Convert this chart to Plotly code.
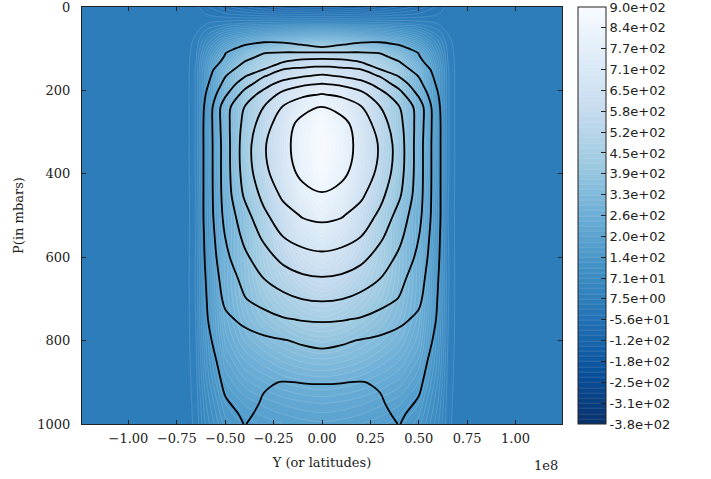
import plotly.graph_objects as go

# Horizontal coordinate (Y, axis shows it in units of 1e8) and pressure levels (mbar)
y_lat = [-1.24e8, -0.9e8, -0.7e8, -0.65e8, -0.6e8, -0.5e8, -0.4e8, -0.3e8, -0.2e8, -0.1e8, 0.0,
         0.1e8, 0.2e8, 0.3e8, 0.4e8, 0.5e8, 0.6e8, 0.65e8, 0.7e8, 0.9e8, 1.24e8]
p_mbar = [0, 40, 70, 90, 100, 110, 120, 135, 150, 165, 185, 210, 240, 280, 330, 390,
          450, 500, 550, 600, 650, 700, 750, 800, 850, 900, 950, 975, 1000]

# Shaded field, rows follow p_mbar, columns follow y_lat
fill_field = [
    [0, 0, 0, -4, -20, -50, -70, -86, -97, -105, -110, -105, -97, -86, -70, -50, -20, -4, 0, 0, 0],
    [0, 0, 0, 2, 7, 18, 26, 31, 35, 38, 40, 38, 35, 31, 26, 18, 7, 2, 0, 0, 0],
    [0, 0, 0, 9, 41, 104, 147, 179, 202, 221, 230, 221, 202, 179, 147, 104, 41, 9, 0, 0, 0],
    [0, 0, 0, 15, 67, 167, 237, 289, 326, 355, 370, 355, 326, 289, 237, 167, 67, 15, 0, 0, 0],
    [0, 0, 0, 17, 77, 194, 275, 335, 378, 413, 430, 413, 378, 335, 275, 194, 77, 17, 0, 0, 0],
    [0, 0, 0, 20, 88, 221, 314, 382, 431, 470, 490, 470, 431, 382, 314, 221, 88, 20, 0, 0, 0],
    [0, 0, 0, 22, 97, 243, 346, 421, 475, 518, 540, 518, 475, 421, 346, 243, 97, 22, 0, 0, 0],
    [0, 0, 0, 24, 108, 270, 384, 468, 528, 576, 600, 576, 528, 468, 384, 270, 108, 24, 0, 0, 0],
    [0, 0, 0, 26, 116, 290, 413, 503, 568, 619, 645, 619, 568, 503, 413, 290, 116, 26, 0, 0, 0],
    [0, 0, 0, 27, 117, 292, 418, 520, 600, 655, 690, 655, 600, 520, 418, 292, 117, 27, 0, 0, 0],
    [0, 0, 0, 27, 117, 290, 415, 530, 630, 700, 740, 700, 630, 530, 415, 290, 117, 27, 0, 0, 0],
    [0, 0, 0, 27, 117, 288, 414, 535, 650, 740, 790, 740, 650, 535, 414, 288, 117, 27, 0, 0, 0],
    [0, 0, 0, 27, 117, 288, 414, 538, 660, 775, 840, 775, 660, 538, 414, 288, 117, 27, 0, 0, 0],
    [0, 0, 0, 27, 117, 288, 414, 540, 675, 814, 885, 814, 675, 540, 414, 288, 117, 27, 0, 0, 0],
    [0, 0, 0, 27, 117, 288, 414, 540, 684, 828, 900, 828, 684, 540, 414, 288, 117, 27, 0, 0, 0],
    [0, 0, 0, 27, 115, 283, 407, 531, 673, 814, 885, 814, 673, 531, 407, 283, 115, 27, 0, 0, 0],
    [0, 0, 0, 25, 109, 269, 386, 504, 638, 773, 840, 773, 638, 504, 386, 269, 109, 25, 0, 0, 0],
    [0, 0, 0, 24, 105, 262, 363, 474, 600, 727, 790, 727, 600, 474, 363, 262, 105, 24, 0, 0, 0],
    [0, 0, 0, 25, 108, 262, 362, 467, 577, 679, 730, 679, 577, 467, 362, 262, 108, 25, 0, 0, 0],
    [0, 0, 0, 26, 110, 265, 360, 459, 545, 625, 665, 625, 545, 459, 360, 265, 110, 26, 0, 0, 0],
    [0, 0, 0, 27, 113, 268, 355, 440, 506, 565, 595, 565, 506, 440, 355, 268, 113, 27, 0, 0, 0],
    [0, 0, 0, 26, 113, 265, 345, 410, 462, 504, 525, 504, 462, 410, 345, 265, 113, 26, 0, 0, 0],
    [0, 0, 0, 25, 112, 255, 325, 377, 414, 446, 460, 446, 414, 377, 325, 255, 112, 25, 0, 0, 0],
    [0, 0, 0, 24, 105, 237, 296, 332, 359, 383, 395, 383, 359, 332, 296, 237, 105, 24, 0, 0, 0],
    [0, 0, 0, 20, 97, 210, 261, 288, 312, 328, 335, 328, 312, 288, 261, 210, 97, 20, 0, 0, 0],
    [0, 0, 0, 17, 84, 182, 224, 246, 263, 274, 280, 274, 263, 246, 224, 182, 84, 17, 0, 0, 0],
    [0, 0, 0, 14, 70, 151, 186, 204, 218, 227, 232, 227, 218, 204, 186, 151, 70, 14, 0, 0, 0],
    [0, 0, 0, 13, 64, 139, 171, 188, 200, 209, 213, 209, 200, 188, 171, 139, 64, 13, 0, 0, 0],
    [0, 0, 0, 12, 59, 127, 156, 172, 183, 191, 195, 191, 183, 172, 156, 127, 59, 12, 0, 0, 0],
]

# Field traced by the black contour lines, same grid
line_field = [
    [0, 0, 0, 0, 0, 0, 0, 0, 0, 0, 0, 0, 0, 0, 0, 0, 0, 0, 0, 0, 0],
    [0, 0, 0, 0.04, 0.1, 0.2, 0.28, 0.32, 0.32, 0.3, 0.3, 0.3, 0.32, 0.32, 0.28, 0.2, 0.1, 0.04, 0, 0, 0],
    [0, 0, 0, 0.05, 0.15, 0.4, 0.6, 0.68, 0.68, 0.62, 0.6, 0.62, 0.68, 0.68, 0.6, 0.4, 0.15, 0.05, 0, 0, 0],
    [0, 0, 0, 0.07, 0.22, 0.7, 0.98, 1.12, 1.1, 0.98, 0.85, 0.98, 1.1, 1.12, 0.98, 0.7, 0.22, 0.07, 0, 0, 0],
    [0, 0, 0, 0.1, 0.3, 0.85, 1.15, 1.55, 1.5, 1.3, 1.1, 1.3, 1.5, 1.55, 1.15, 0.85, 0.3, 0.1, 0, 0, 0],
    [0, 0, 0, 0.11, 0.35, 0.98, 1.5, 1.97, 2.08, 2.1, 2.1, 2.1, 2.08, 1.97, 1.5, 0.98, 0.35, 0.11, 0, 0, 0],
    [0, 0, 0, 0.13, 0.4, 1.05, 1.75, 2.2, 2.6, 2.72, 2.75, 2.72, 2.6, 2.2, 1.75, 1.05, 0.4, 0.13, 0, 0, 0],
    [0, 0, 0, 0.15, 0.45, 1.25, 2.1, 2.6, 3.1, 3.45, 3.59, 3.45, 3.1, 2.6, 2.1, 1.25, 0.45, 0.15, 0, 0, 0],
    [0, 0, 0, 0.16, 0.5, 1.75, 2.3, 3.02, 4.02, 4.25, 4.4, 4.25, 4.02, 3.02, 2.3, 1.75, 0.5, 0.16, 0, 0, 0],
    [0, 0, 0, 0.2, 0.65, 1.95, 2.9, 3.92, 4.5, 4.9, 5.14, 4.9, 4.5, 3.92, 2.9, 1.95, 0.65, 0.2, 0, 0, 0],
    [0, 0, 0, 0.25, 0.8, 2.3, 3.6, 4.6, 5.45, 5.85, 6.04, 5.85, 5.45, 4.6, 3.6, 2.3, 0.8, 0.25, 0, 0, 0],
    [0, 0, 0, 0.3, 1.02, 2.85, 4.4, 5.4, 6.3, 6.8, 7.06, 6.8, 6.3, 5.4, 4.4, 2.85, 1.02, 0.3, 0, 0, 0],
    [0, 0, 0, 0.38, 1.15, 3.6, 5.02, 6.02, 7.08, 7.75, 8.03, 7.75, 7.08, 6.02, 5.02, 3.6, 1.15, 0.38, 0, 0, 0],
    [0, 0, 0, 0.4, 1.2, 3.6, 5.3, 6.5, 7.65, 8.25, 8.4, 8.25, 7.65, 6.5, 5.3, 3.6, 1.2, 0.4, 0, 0, 0],
    [0, 0, 0, 0.4, 1.2, 3.5, 5.5, 6.9, 7.75, 8.4, 8.6, 8.4, 7.75, 6.9, 5.5, 3.5, 1.2, 0.4, 0, 0, 0],
    [0, 0, 0, 0.4, 1.2, 3.5, 5.45, 6.8, 7.65, 8.25, 8.45, 8.25, 7.65, 6.8, 5.45, 3.5, 1.2, 0.4, 0, 0, 0],
    [0, 0, 0, 0.4, 1.2, 3.45, 5.15, 6.3, 7.2, 7.75, 7.95, 7.75, 7.2, 6.3, 5.15, 3.45, 1.2, 0.4, 0, 0, 0],
    [0, 0, 0, 0.4, 1.2, 3.3, 4.6, 5.8, 6.6, 7.08, 7.23, 7.08, 6.6, 5.8, 4.6, 3.3, 1.2, 0.4, 0, 0, 0],
    [0, 0, 0, 0.38, 1.15, 3.02, 4.25, 5.2, 6.02, 6.4, 6.53, 6.4, 6.02, 5.2, 4.25, 3.02, 1.15, 0.38, 0, 0, 0],
    [0, 0, 0, 0.35, 1.1, 2.75, 3.8, 4.6, 5.3, 5.65, 5.8, 5.65, 5.3, 4.6, 3.8, 2.75, 1.1, 0.35, 0, 0, 0],
    [0, 0, 0, 0.3, 1.02, 2.45, 3.3, 4.02, 4.5, 4.85, 4.95, 4.85, 4.5, 4.02, 3.3, 2.45, 1.02, 0.3, 0, 0, 0],
    [0, 0, 0, 0.3, 0.95, 2.2, 2.95, 3.4, 3.75, 4.02, 4.12, 4.02, 3.75, 3.4, 2.95, 2.2, 0.95, 0.3, 0, 0, 0],
    [0, 0, 0, 0.28, 0.9, 1.8, 2.2, 2.6, 2.9, 3.05, 3.1, 3.05, 2.9, 2.6, 2.2, 1.8, 0.9, 0.28, 0, 0, 0],
    [0, 0, 0, 0.26, 0.85, 1.35, 1.65, 1.8, 1.95, 2.12, 2.25, 2.12, 1.95, 1.8, 1.65, 1.35, 0.85, 0.26, 0, 0, 0],
    [0, 0, 0, 0.22, 0.75, 1.2, 1.4, 1.48, 1.55, 1.58, 1.6, 1.58, 1.55, 1.48, 1.4, 1.2, 0.75, 0.22, 0, 0, 0],
    [0, 0, 0, 0.18, 0.6, 1.1, 1.15, 1.05, 0.98, 1.01, 1.02, 1.01, 0.98, 1.05, 1.15, 1.1, 0.6, 0.18, 0, 0, 0],
    [0, 0, 0, 0.14, 0.45, 0.95, 1.15, 0.95, 0.85, 0.8, 0.8, 0.8, 0.85, 0.95, 1.15, 0.95, 0.45, 0.14, 0, 0, 0],
    [0, 0, 0, 0.12, 0.38, 0.8, 1.1, 0.88, 0.77, 0.73, 0.72, 0.73, 0.77, 0.88, 1.1, 0.8, 0.38, 0.12, 0, 0, 0],
    [0, 0, 0, 0.1, 0.3, 0.65, 1.02, 0.8, 0.7, 0.66, 0.65, 0.66, 0.7, 0.8, 1.02, 0.65, 0.3, 0.1, 0, 0, 0],
]

fill_min, fill_max = -375.0, 900.0
cbar_tickvals = [-375.0, -311.25, -247.5, -183.75, -120.0, -56.25, 7.5, 71.25, 135.0, 198.75,
                 262.5, 326.25, 390.0, 453.75, 517.5, 581.25, 645.0, 708.75, 772.5, 836.25, 900.0]
cbar_ticktext = ["-3.8e+02", "-3.1e+02", "-2.5e+02", "-1.8e+02", "-1.2e+02", "-5.6e+01", "7.5e+00",
                 "7.1e+01", "1.4e+02", "2.0e+02", "2.6e+02", "3.3e+02", "3.9e+02", "4.5e+02",
                 "5.2e+02", "5.8e+02", "6.5e+02", "7.1e+02", "7.7e+02", "8.4e+02", "9.0e+02"]
x_tickvals = [-1.0e8, -0.75e8, -0.5e8, -0.25e8, 0.0, 0.25e8, 0.5e8, 0.75e8, 1.0e8]
x_ticktext = ["\u22121.00", "\u22120.75", "\u22120.50", "\u22120.25", "0.00", "0.25", "0.50", "0.75", "1.00"]
y_tickvals = [0, 200, 400, 600, 800, 1000]
line_start, line_end, line_step = 1, 8, 1

blues_r = [[0.0, "rgb(8,48,107)"], [0.125, "rgb(8,81,156)"], [0.25, "rgb(33,113,181)"],
           [0.375, "rgb(66,146,198)"], [0.5, "rgb(107,174,214)"], [0.625, "rgb(158,202,225)"],
           [0.75, "rgb(198,219,239)"], [0.875, "rgb(222,235,247)"], [1.0, "rgb(247,251,255)"]]

serif = "DejaVu Serif"
sans = "DejaVu Sans"
txt = "#222222"

fig = go.Figure()
fig.add_trace(go.Contour(
    x=y_lat, y=p_mbar, z=fill_field,
    zmin=fill_min, zmax=fill_max, autocontour=False,
    colorscale=blues_r,
    contours=dict(coloring="fill", start=fill_min, end=fill_max, size=(fill_max - fill_min) / 80,
                  showlines=True),
    line=dict(color="rgba(255,255,255,0.28)", width=0.5, smoothing=1.0),
    colorbar=dict(x=1.033, xanchor="left", xpad=0, y=0.5, yanchor="middle", len=1.0,
                  lenmode="fraction", ypad=0, thickness=28, outlinewidth=1, outlinecolor="#222",
                  ticks="inside", ticklen=5, tickwidth=1, tickcolor="#222",
                  tickmode="array", tickvals=cbar_tickvals, ticktext=cbar_ticktext,
                  ticklabeloverflow="allow",
                  tickfont=dict(family=sans, size=13, color=txt)),
    hoverinfo="skip",
))
fig.add_trace(go.Contour(
    x=y_lat, y=p_mbar, z=line_field, autocontour=False,
    contours=dict(coloring="lines", start=line_start, end=line_end, size=line_step),
    colorscale=[[0, "black"], [1, "black"]],
    line=dict(width=1.8, smoothing=1.0),
    showscale=False, hoverinfo="skip",
))

axis_common = dict(showline=True, linecolor="#222", linewidth=1, mirror="ticks",
                   ticks="inside", ticklen=4, tickwidth=1, tickcolor="#222",
                   showgrid=False, zeroline=False, ticklabeloverflow="allow",
                   tickfont=dict(family=serif, size=13, color=txt))
fig.update_xaxes(range=[-1.24e8, 1.24e8], tickmode="array", tickvals=x_tickvals, ticktext=x_ticktext,
                 title=dict(text="Y (or latitudes)", font=dict(family=serif, size=13, color=txt), standoff=13),
                 ticklabelstandoff=2, automargin=False, **axis_common)
fig.update_yaxes(range=[1000, 0], tickmode="array", tickvals=y_tickvals,
                 title=dict(text="P(in mbars)", font=dict(family=serif, size=13, color=txt), standoff=10),
                 ticklabelstandoff=8, automargin=False, **axis_common)

fig.add_annotation(text="1e8", xref="paper", yref="paper", x=0.996, y=-0.1, xanchor="right",
                   yanchor="middle", showarrow=False, font=dict(family=serif, size=13, color=txt))

fig.update_layout(width=711, height=479, margin=dict(l=82, r=149, t=7, b=55, autoexpand=False),
                  paper_bgcolor="white", plot_bgcolor="white", showlegend=False)

fig.write_html("out.html", config={"displayModeBar": False},
               post_script="document.body.style.margin='0px';")
